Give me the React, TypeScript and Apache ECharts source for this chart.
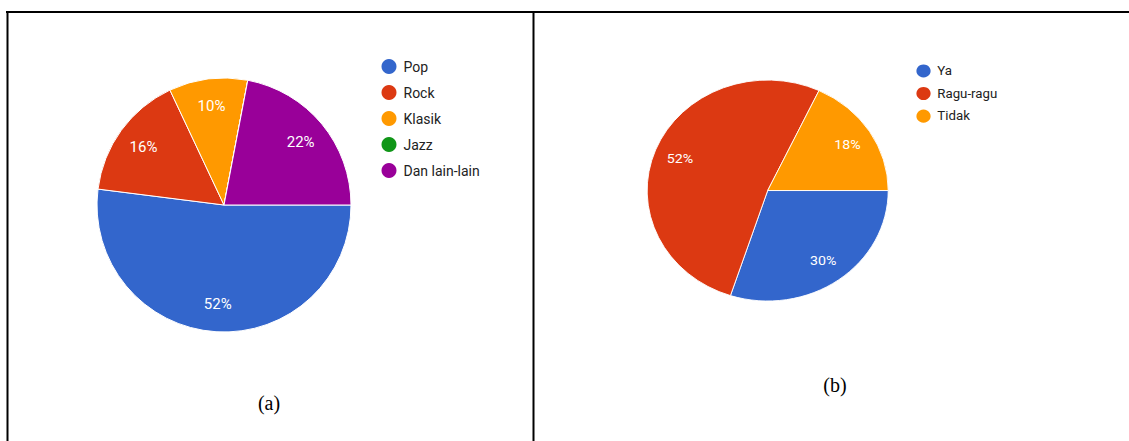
import React, { useEffect, useRef } from "react";
import * as echarts from "echarts";

const genreNames = ["Pop", "Rock", "Klasik", "Jazz", "Dan lain-lain"];
const genreValues = [26, 8, 5, 0, 11];
const genreColors = ["#3366cc", "#dc3912", "#ff9900", "#109618", "#990099"];

const answerNames = ["Ya", "Ragu-ragu", "Tidak"];
const answerValues = [15, 26, 9];
const answerColors = ["#3366cc", "#dc3912", "#ff9900"];

const captions = ["(a)", "(b)"];

const FONT = "Roboto, 'Noto Sans', sans-serif";

function pieSeries(names: string[], values: number[], colors: string[], center: number[], r: number) {
  const data = names.map((n, i) => ({ name: n, value: values[i], itemStyle: { color: colors[i] } }));
  return [
    {
      type: "pie",
      center,
      radius: [0, r],
      startAngle: 0,
      clockwise: true,
      avoidLabelOverlap: false,
      label: { show: false },
      labelLine: { show: false },
      emphasis: { disabled: true },
      itemStyle: { borderColor: "#ffffff", borderWidth: 1 },
      data,
    },
    {
      type: "pie",
      center,
      radius: [r * 0.52, r],
      startAngle: 0,
      clockwise: true,
      silent: true,
      avoidLabelOverlap: false,
      legendHoverLink: false,
      emphasis: { disabled: true },
      itemStyle: { color: "transparent", borderWidth: 0 },
      label: {
        show: true,
        position: "inside",
        color: "#ffffff",
        fontSize: 15,
        fontFamily: FONT,
        formatter: (p: any) => (p.value > 0 ? Math.round(p.percent) + "%" : ""),
      },
      labelLine: { show: false },
      data: names.map((n, i) => ({ name: n, value: values[i] })),
    },
  ];
}

function legendOf(names: string[], left: number, top: number) {
  return {
    orient: "vertical",
    left,
    top,
    icon: "circle",
    itemWidth: 19,
    itemHeight: 15,
    itemGap: 11,
    selectedMode: false,
    itemStyle: { borderWidth: 0 },
    data: names,
    textStyle: { color: "#222222", fontSize: 14, fontFamily: FONT },
  };
}

export default function App() {
  const leftRef = useRef<HTMLDivElement>(null);
  const rightRef = useRef<HTMLDivElement>(null);

  useEffect(() => {
    const c1 = echarts.init(leftRef.current!, null, { renderer: "svg" });
    c1.setOption({
      animation: false,
      backgroundColor: "#ffffff",
      legend: legendOf(genreNames, 376.5, 54),
      series: pieSeries(genreNames, genreValues, genreColors, [224, 205], 127),
      graphic: [
        { type: "line", shape: { x1: 6, y1: 12, x2: 1129, y2: 12 }, style: { stroke: "#000", lineWidth: 2 } },
        { type: "line", shape: { x1: 7.5, y1: 11, x2: 7.5, y2: 441 }, style: { stroke: "#000", lineWidth: 2 } },
        { type: "line", shape: { x1: 533.5, y1: 11, x2: 533.5, y2: 441 }, style: { stroke: "#000", lineWidth: 2 } },
        {
          type: "text",
          x: 269,
          y: 403,
          style: { text: captions[0], fontSize: 20, fontFamily: "'Liberation Serif', 'Times New Roman', serif", fill: "#000", align: "center", verticalAlign: "middle" },
        },
        {
          type: "text",
          x: 835,
          y: 385,
          style: { text: captions[1], fontSize: 20, fontFamily: "'Liberation Serif', 'Times New Roman', serif", fill: "#000", align: "center", verticalAlign: "middle" },
        },
      ],
    });

    const c2 = echarts.init(rightRef.current!, null, { renderer: "svg" });
    c2.setOption({
      animation: false,
      legend: legendOf(answerNames, 399, 69),
      series: pieSeries(answerNames, answerValues, answerColors, [247.3, 219], 127),
    });

    return () => {
      c1.dispose();
      c2.dispose();
    };
  }, []);

  return (
    <div style={{ position: "absolute", left: 0, top: 0, width: 1129, height: 441, overflow: "hidden", background: "#fff" }}>
      <div ref={leftRef} style={{ position: "absolute", left: 0, top: 0, width: 1129, height: 441 }} />
      <div
        ref={rightRef}
        style={{
          position: "absolute",
          left: 533,
          top: 0,
          width: 628,
          height: 507,
          transformOrigin: "0 0",
          transform: "scale(0.949, 0.87)",
        }}
      />
    </div>
  );
}
